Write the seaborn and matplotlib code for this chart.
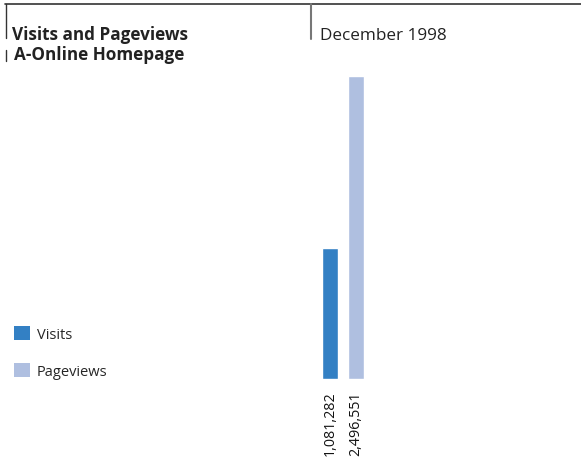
import matplotlib
matplotlib.use("Agg")
import pandas as pd
import seaborn as sns
import matplotlib.pyplot as plt
from matplotlib.patches import Patch
from matplotlib.lines import Line2D

# datos
categorias = ["Visits", "Pageviews"]
valores = [1081282, 2496551]
colores = ["#3380c4", "#afbfe0"]
etiquetas = [f"{v:,}" for v in valores]

sns.set_style("white")
plt.rcParams["font.family"] = ["Open Sans", "DejaVu Sans"]

df = pd.DataFrame({"serie": categorias, "valor": valores})

W, H = 581, 477
fig = plt.figure(figsize=(W / 100, H / 100), dpi=100)
ax = fig.add_axes([317 / W, 97 / H, 52 / W, 303 / H])

sns.barplot(data=df, x="serie", y="valor", hue="serie", palette=colores,
            width=0.615, legend=False, ax=ax, saturation=1)
ax.set_xlim(-0.5, 1.5)
ax.set_ylim(0, valores[1])
ax.set_xticks(range(len(categorias)))
ax.set_xticklabels(etiquetas, rotation=90, fontsize=10.3, va="top", color="#111111")
ax.tick_params(axis="x", length=0, pad=8)
ax.set_yticks([])
ax.set_xlabel("")
ax.set_ylabel("")
sns.despine(ax=ax, left=True, bottom=True)

# marco de cabecera
fig.add_artist(Line2D([5 / W, 1], [1 - 5 / H, 1 - 5 / H], color="#333333", lw=1.2))
fig.add_artist(Line2D([6 / W, 6 / W], [1 - 5 / H, 1 - 39 / H], color="#333333", lw=1))
fig.add_artist(Line2D([6 / W, 6 / W], [1 - 51 / H, 1 - 62 / H], color="#333333", lw=1))
fig.add_artist(Line2D([311 / W, 311 / W], [1 - 5 / H, 1 - 40 / H], color="#777777", lw=1.5))

fig.text(12 / W, 1 - 40 / H, "Visits and Pageviews", fontsize=12.3, fontweight="bold",
         color="#222222", va="baseline")
fig.text(14 / W, 1 - 60 / H, "A-Online Homepage", fontsize=12.3, fontweight="bold",
         color="#222222", va="baseline")
fig.text(320 / W, 1 - 40 / H, "December 1998", fontsize=12.3, color="#222222", va="baseline")

handles = [Patch(facecolor=c, edgecolor="none") for c in colores]
fig.legend(handles, categorias, loc="upper left", bbox_to_anchor=(1 / W, 1 - 314 / H),
           frameon=False, fontsize=10.5, handlelength=1.1, handleheight=1.1,
           handletextpad=0.45, labelspacing=1.45)

fig.savefig("out.png", dpi=100)
